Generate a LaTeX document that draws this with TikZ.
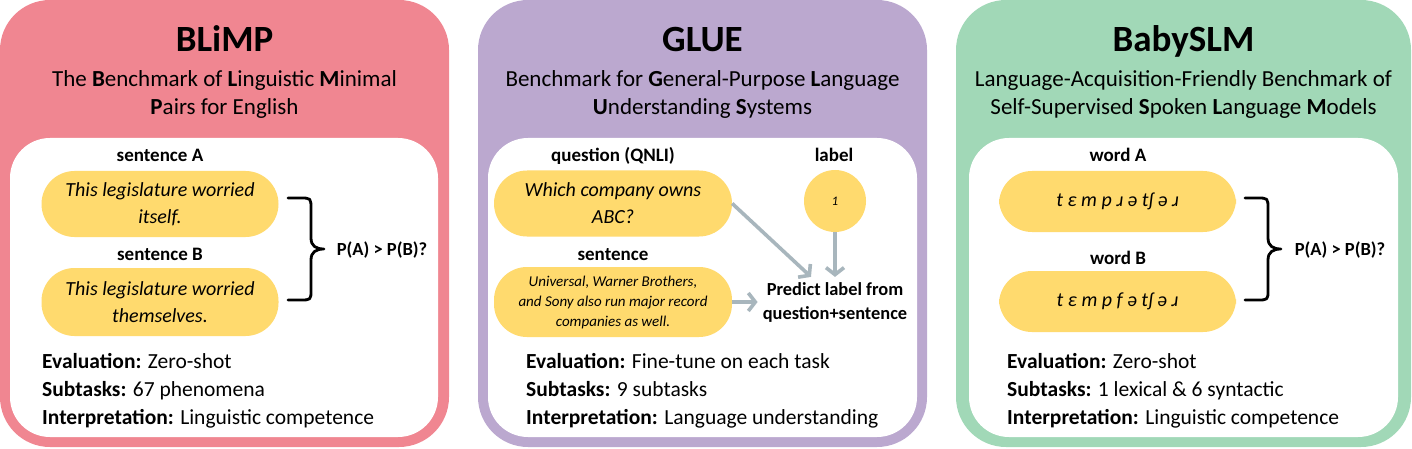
\documentclass[tikz,border=0pt]{standalone}
\usepackage{fontspec}
\setmainfont{Carlito}
\usetikzlibrary{arrows.meta,calc,positioning}
\definecolor{blimppink}{RGB}{240,134,145}
\definecolor{gluepurple}{RGB}{187,168,207}
\definecolor{babygreen}{RGB}{161,216,183}
\definecolor{pillyellow}{RGB}{255,218,110}
\definecolor{arrowgrey}{RGB}{168,182,189}
\newcommand{\fs}[2]{\fontsize{#1}{#2}\selectfont}
\newcommand{\pairbrace}[1]{%
  \draw[brace,shift={(#1,0)}] (0,198) -- (12,198) .. controls (23,198) .. (23,209) -- (23,238)
    .. controls (23,246) and (28,249) .. (36,249) .. controls (28,249) and (23,252) .. (23,260)
    -- (23,290) .. controls (23,300) .. (12,300) -- (0,300);}

\begin{document}
\begin{tikzpicture}[x=1pt,y=-1pt,
  title/.style={font=\fs{37}{44}\bfseries,anchor=base},
  subtitle/.style={font=\fs{23}{28},align=center},
  tag/.style={font=\fs{19}{22}\bfseries,anchor=base},
  pill/.style={fill=pillyellow,rounded corners=33pt,minimum width=237pt,minimum height=66pt,
    inner sep=0pt,align=center,font=\fs{20}{27}\itshape},
  info/.style={font=\fs{21.5}{28},align=left,anchor=base west,inner sep=0pt},
  ask/.style={font=\fs{18.5}{22}\bfseries},
  brace/.style={line width=2.8pt,line cap=round,line join=round},
  flow/.style={draw=arrowgrey,line width=3.6pt,-{Straight Barb[length=7pt,width=18pt]}}]
\useasboundingbox (0,0) rectangle (1412,449);

% panels
\fill[blimppink,rounded corners=50pt] (0,0) rectangle (449,447);
\fill[gluepurple,rounded corners=50pt] (478,0) rectangle (927,447);
\fill[babygreen,rounded corners=50pt] (956,0) rectangle (1411,447);
\fill[white,rounded corners=40pt] (10,138) rectangle (438,437);
\fill[white,rounded corners=40pt] (488,138) rectangle (917,437);
\fill[white,rounded corners=40pt] (969,138) rectangle (1398,437);

% BLiMP
\node[title] (t1) at (224.5,52) {BLiMP};
\node[subtitle] (s1) at (224.5,94) {The \textbf{B}enchmark of \textbf{L}inguistic \textbf{M}inimal\\\textbf{P}airs for English};
\node[tag] (la) at (160,161) {sentence A};
\node[pill] (pa) at (160,204) {This legislature worried\\itself.};
\node[tag] (lb) at (160,260) {sentence B};
\node[pill,minimum height=68pt] (pb) at (160,302) {This legislature worried\\themselves.};
\pairbrace{288}
\node[ask] (q1) at (382,250) {P(A) > P(B)?};
\node[info] (i1) at (42,424) {\textbf{Evaluation:} Zero-shot\\\textbf{Subtasks:} 67 phenomena\\\textbf{Interpretation:} Linguistic competence};

% GLUE
\node[title] (t2) at (702.5,52) {GLUE};
\node[subtitle] (s2) at (702.5,94) {Benchmark for \textbf{G}eneral-Purpose \textbf{L}anguage\\\textbf{U}nderstanding \textbf{S}ystems};
\node[tag] (lq) at (613,161) {question (QNLI)};
\node[tag] (ll) at (834,161) {label};
\node[pill,minimum width=238pt] (pq) at (613,203.5) {Which company owns\\ABC?};
\node[circle,fill=pillyellow,minimum size=62pt,inner sep=0pt,font=\fs{13}{15}\itshape] (lab) at (835,201) {1};
\node[tag] (ls) at (613,260) {sentence};
\node[pill,minimum width=238pt,minimum height=70pt,font=\fs{15}{20}\itshape] (ps) at (613,302) {Universal, Warner Brothers,\\and Sony also run major record\\companies as well.};
\node[font=\fs{18.4}{24}\bfseries,align=center,inner sep=5pt] (pred) at (835,302) {Predict label from\\question+sentence};
\draw[flow] (pq.east) -- ([xshift=-24pt]pred.north);
\draw[flow] (lab) -- (lab |- pred.north);
\draw[flow] (ps.east) -- (pred.west);
\node[info] (i2) at (526,424) {\textbf{Evaluation:} Fine-tune on each task\\\textbf{Subtasks:} 9 subtasks\\\textbf{Interpretation:} Language understanding};

% BabySLM
\node[title] (t3) at (1183.5,52) {BabySLM};
\node[subtitle] (s3) at (1183.5,94) {Language-Acquisition-Friendly Benchmark of\\Self-Supervised \textbf{S}poken \textbf{L}anguage \textbf{M}odels};
\node[tag] (lwa) at (1118,161) {word A};
\node[pill,minimum height=61pt] (pwa) at (1117.5,201.5) {t ɛ m p ɹ ə tʃ ə ɹ};
\node[tag] (lwb) at (1118,264) {word B};
\node[pill,minimum height=61pt] (pwb) at (1117.5,301.5) {t ɛ m p f ə tʃ ə ɹ};
\pairbrace{1245}
\node[ask] (q3) at (1340,250) {P(A) > P(B)?};
\node[info] (i3) at (1007,424) {\textbf{Evaluation:} Zero-shot\\\textbf{Subtasks:} 1 lexical \& 6 syntactic\\\textbf{Interpretation:} Linguistic competence};
\end{tikzpicture}
\end{document}
